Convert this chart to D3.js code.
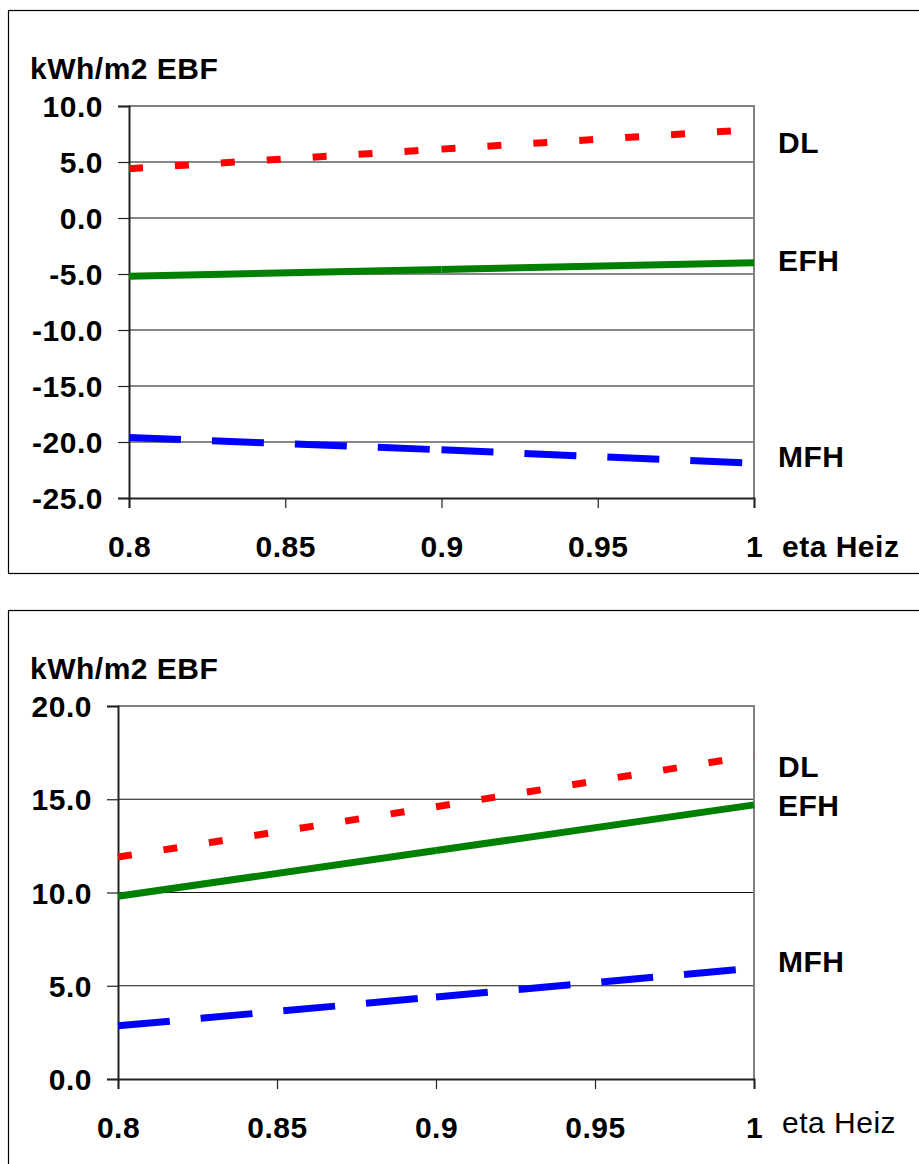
<!DOCTYPE html>
<html>
<head>
<meta charset="utf-8">
<script src="https://cdn.jsdelivr.net/npm/d3@7"></script>
<style>
  html, body { margin: 0; padding: 0; background: #fff; }
  svg { display: block; }
  text { font-family: "Liberation Sans", Arial, sans-serif; fill: #000; letter-spacing: 0.5px; }
</style>
</head>
<body>
<svg id="chart" width="919" height="1164"></svg>
<script>
// ---- data ----
const seriesNames = ["DL", "EFH", "MFH"];
const xValues = [0.8, 0.9, 1.0];
const xTicks = [0.8, 0.85, 0.9, 0.95, 1];

const topDL  = [4.4, 6.15, 7.9];
const topEFH = [-5.2, -4.6, -4.0];
const topMFH = [-19.6, -20.7, -21.9];
const topYTicks = [10, 5, 0, -5, -10, -15, -20, -25];

const botDL  = [11.9, 14.6, 17.35];
const botEFH = [9.8, 12.25, 14.7];
const botMFH = [2.85, 4.4, 5.95];
const botYTicks = [20, 15, 10, 5, 0];

const yTitle = "kWh/m2 EBF";
const xTitle = "eta Heiz";

// ---- styles ----
const seriesStyle = {
  DL:  { color: "#FF0000", dash: "14 32" },
  EFH: { color: "#008000", dash: null },
  MFH: { color: "#0000FF", dash: "52 31" }
};

const panels = [
  {
    frame: { x: 8.5, y: 10.5, w: 930, h: 563 },
    plot: { left: 129, top: 106, right: 754, bottom: 498 },
    yDomain: [-25, 10], yTicks: topYTicks,
    series: { DL: topDL, EFH: topEFH, MFH: topMFH },
    labelOffset: { DL: 23, EFH: 8, MFH: 4 },
    titleBaseline: 79,
    xTitleBold: true, xTitleDy: 0
  },
  {
    frame: { x: 8.5, y: 610.5, w: 930, h: 700 },
    plot: { left: 118, top: 706, right: 754, bottom: 1079 },
    yDomain: [0, 20], yTicks: botYTicks,
    series: { DL: botDL, EFH: botEFH, MFH: botMFH },
    labelOffset: { DL: 22, EFH: 11, MFH: 4 },
    titleBaseline: 679,
    xTitleBold: false, xTitleDy: -5
  }
];

const svg = d3.select("#chart");
const FS = 30;

panels.forEach(p => {
  const g = svg.append("g");
  const P = p.plot;

  // outer frame
  g.append("rect")
    .attr("x", p.frame.x).attr("y", p.frame.y)
    .attr("width", p.frame.w).attr("height", p.frame.h)
    .attr("fill", "none").attr("stroke", "#000").attr("stroke-width", 1.2);

  const x = d3.scaleLinear().domain([0.8, 1]).range([P.left, P.right]);
  const y = d3.scaleLinear().domain(p.yDomain).range([P.bottom, P.top]);

  // gridlines
  g.append("g").selectAll("line")
    .data(p.yTicks.filter(t => t !== p.yDomain[0] && t !== p.yDomain[1]))
    .join("line")
    .attr("x1", P.left).attr("x2", P.right)
    .attr("y1", d => y(d)).attr("y2", d => y(d))
    .attr("stroke", "#111").attr("stroke-width", 1.2);

  // plot border top & right (gray)
  g.append("path")
    .attr("d", `M${P.left},${P.top}H${P.right}V${P.bottom}`)
    .attr("fill", "none").attr("stroke", "#808080").attr("stroke-width", 2);

  // y axis
  const yAxis = d3.axisLeft(y).tickValues(p.yTicks).tickSize(11).tickPadding(15)
    .tickFormat(d => d.toFixed(1));
  const ya = g.append("g").attr("transform", `translate(${P.left},0)`).call(yAxis);
  ya.select(".domain").attr("stroke", "#222").attr("stroke-width", 2);
  ya.selectAll(".tick line").attr("stroke", "#222").attr("stroke-width", 1.2);
  ya.selectAll(".tick text")
    .attr("font-size", FS).attr("font-weight", "bold")
    .attr("font-family", "Liberation Sans, Arial, sans-serif")
    .attr("fill", "#000").attr("dy", "0.35em");

  // x axis
  const xAxis = d3.axisBottom(x).tickValues(xTicks).tickSize(10).tickPadding(0)
    .tickFormat(d => String(+d.toFixed(2)));
  const xa = g.append("g").attr("transform", `translate(0,${P.bottom})`).call(xAxis);
  xa.select(".domain").attr("stroke", "#222").attr("stroke-width", 2);
  xa.selectAll(".tick line").attr("stroke", "#222").attr("stroke-width", 1.2);
  xa.selectAll(".tick text")
    .attr("font-size", FS).attr("font-weight", "bold")
    .attr("font-family", "Liberation Sans, Arial, sans-serif")
    .attr("fill", "#000").attr("dy", null).attr("y", 59);

  // series, each segment drawn separately (dash pattern restarts at points)
  seriesNames.forEach(name => {
    const vals = p.series[name];
    const st = seriesStyle[name];
    const pts = xValues.map((xv, i) => [x(xv), y(vals[i])]);
    const segs = d3.pairs(pts);
    g.append("g").selectAll("line").data(segs).join("line")
      .attr("x1", d => d[0][0]).attr("y1", d => d[0][1])
      .attr("x2", d => d[1][0]).attr("y2", d => d[1][1])
      .attr("stroke", st.color).attr("stroke-width", 7)
      .attr("stroke-dasharray", st.dash)
      .attr("stroke-linecap", "butt");

    // series label
    g.append("text")
      .attr("x", 778)
      .attr("y", y(vals[vals.length - 1]) + p.labelOffset[name])
      .attr("font-size", FS).attr("font-weight", "bold")
      .text(name);
  });

  // y title
  g.append("text").attr("x", 30).attr("y", p.titleBaseline)
    .attr("font-size", FS).attr("font-weight", "bold").text(yTitle);

  // x title
  g.append("text").attr("x", 782).attr("y", P.bottom + 59 + p.xTitleDy)
    .attr("font-size", FS).attr("font-weight", p.xTitleBold ? "bold" : "normal")
    .text(xTitle);
});
</script>
</body>
</html>
